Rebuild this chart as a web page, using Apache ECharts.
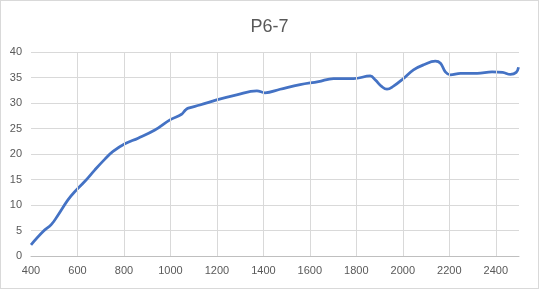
<!DOCTYPE html>
<html><head><meta charset="utf-8">
<script src="https://cdn.jsdelivr.net/npm/echarts@6/dist/echarts.min.js"></script>
<style>html,body{margin:0;padding:0;background:#fff}#c{width:537px;height:287px;border:1px solid #d9d9d9}</style>
</head><body><div id="c"></div>
<script>
var titleText = "P6-7";
var xTicks = [400, 2500, 200];
var xGridValues = [600, 800, 1000, 1200, 1400, 1600, 1800, 2000, 2200, 2400];
var yTicks = [0, 40, 5];
var xs = [400, 452, 488, 516, 559, 588, 631, 675, 718, 753, 804, 861, 933, 998, 1048, 1064, 1077, 1127, 1199, 1285, 1372, 1407, 1472, 1558, 1637, 1702, 1788, 1860, 1882, 1910, 1932, 1960, 2003, 2046, 2090, 2140, 2162, 2183, 2205, 2248, 2320, 2384, 2430, 2463, 2488, 2498];
var ys = [2.2, 4.8, 6.2, 8.0, 11.0, 12.6, 14.6, 16.9, 19.0, 20.5, 22.0, 23.1, 24.7, 26.7, 27.8, 28.6, 29.0, 29.6, 30.6, 31.6, 32.4, 32.0, 32.7, 33.6, 34.2, 34.8, 34.8, 35.3, 34.5, 33.2, 32.7, 33.3, 34.8, 36.5, 37.5, 38.2, 37.8, 36.1, 35.5, 35.8, 35.8, 36.1, 36.0, 35.6, 36.0, 37.0];
var pts = xs.map(function(x, i){ return [x, ys[i]]; });
var chart = echarts.init(document.getElementById('c'));
var font = "Liberation Sans, Arial, sans-serif";
chart.setOption({
  animation: false,
  title: {text: titleText, left: 'center', top: 12, textStyle: {color: '#595959', fontSize: 18, fontWeight: 'normal', fontFamily: font}},
  grid: {left: 30, right: 19, top: 51, bottom: 32, containLabel: false},
  xAxis: {type: 'value', min: xTicks[0], max: xTicks[1], interval: xTicks[2],
    axisLine: {show: true, lineStyle: {color: '#bfbfbf', width: 1}},
    axisTick: {show: false},
    splitLine: {show: false},
    axisLabel: {color: '#595959', fontSize: 11, fontFamily: font, margin: 9, showMaxLabel: false,
      formatter: function(v){ return String(v); }}},
  yAxis: {type: 'value', min: yTicks[0], max: yTicks[1], interval: yTicks[2],
    axisLine: {show: false}, axisTick: {show: false},
    splitLine: {show: true, lineStyle: {color: '#d9d9d9', width: 1}},
    axisLabel: {color: '#595959', fontSize: 11, fontFamily: font, margin: 9}},
  series: [
    {type: 'line', data: [], z: 1, silent: true,
      markLine: {silent: true, symbol: 'none', label: {show: false},
        lineStyle: {color: '#d9d9d9', width: 1, type: 'solid'},
        data: xGridValues.map(function(v){ return {xAxis: v}; })}},
    {type: 'line', data: pts, smooth: 0.4, symbol: 'none', z: 3,
      lineStyle: {color: '#4472C4', width: 2.75}}]
});
</script></body></html>
